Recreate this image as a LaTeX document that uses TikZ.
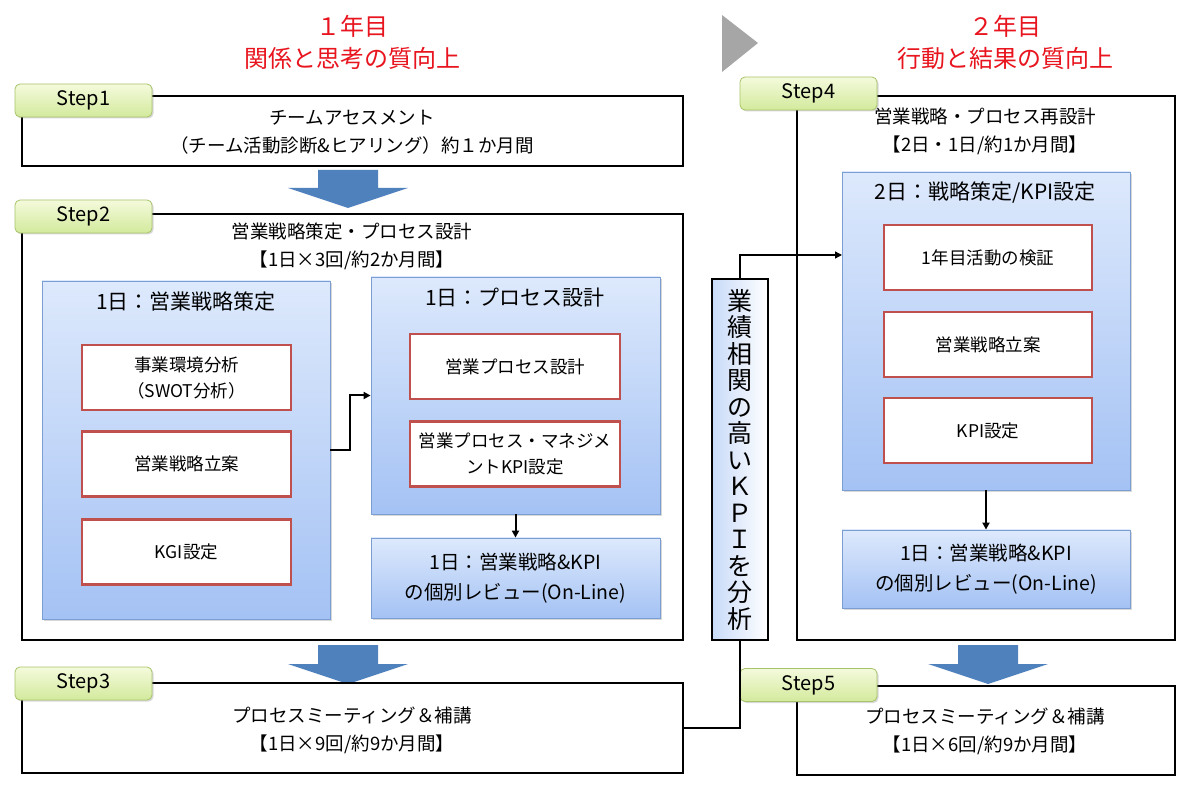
\documentclass[tikz,border=0pt]{standalone}
\usepackage{fontspec}
\setmainfont{Noto Sans CJK JP}
\usetikzlibrary{arrows.meta,shadows,calc}
\definecolor{titlered}{HTML}{E8141E}
\definecolor{bigarrow}{HTML}{4F81BD}
\definecolor{redbox}{HTML}{C0504D}
\definecolor{bluetop}{HTML}{DDE9FC}
\definecolor{bluebot}{HTML}{A4C2F4}
\definecolor{blueline}{HTML}{7A9ED2}
\definecolor{tagtop}{HTML}{F4FADC}
\definecolor{tagbot}{HTML}{D3EA9C}
\definecolor{tagline}{HTML}{A8C46A}
\tikzset{
  stepbox/.style={draw=black,line width=2.6pt,fill=white,minimum width=#1,inner sep=0pt},
  tagbox/.style={draw=tagline,line width=0.8pt,rounded corners=5pt,top color=tagtop,bottom color=tagbot,
     minimum width=137pt,minimum height=33pt,font=\fontsize{20}{22}\selectfont,
     drop shadow={opacity=0.3,shadow xshift=1.5pt,shadow yshift=-1.5pt}},
  bluebox/.style={draw=blueline,line width=0.8pt,top color=bluetop,bottom color=bluebot,
     drop shadow={opacity=0.3,shadow xshift=2pt,shadow yshift=-2pt},inner sep=0pt},
  redbx/.style={draw=redbox,line width=2.2pt,fill=white,align=center,
     font=\fontsize{17.5}{26}\selectfont,inner sep=0pt},
  maintext/.style={align=center,font=\fontsize{18.5}{28}\selectfont},
  bluetitle/.style={align=center,font=\fontsize{21}{28}\selectfont},
  reviewtext/.style={align=center,font=\fontsize{19.5}{30}\selectfont},
  titletext/.style={align=center,text=titlered,font=\fontsize{24}{32}\selectfont},
  conn/.style={draw=black,line width=2pt,-{Triangle[length=7pt,width=7pt]}},
  thinconn/.style={draw=black,line width=1.3pt},
  bigarr/.style={fill=bigarrow,draw=none}
}
\begin{document}
\begin{tikzpicture}[x=1pt,y=-1pt]
\useasboundingbox (0,0) rectangle (1195,791);
\fill[white] (0,0) rectangle (1195,791);

% titles
\node[titletext] (t1) at (352,42) {１年目\\関係と思考の質向上};
\node[titletext] (t2) at (1005,42) {２年目\\行動と結果の質向上};
\fill[gray!70] (722,15) -- (758,43) -- (722,72) -- cycle;

% big arrows
\fill[bigarr] (318,170) -- (378,170) -- (378,188) -- (408,188) -- (348,208) -- (288,188) -- (318,188) -- cycle;
\fill[bigarr] (318,645) -- (378,645) -- (378,664) -- (408,664) -- (348,684) -- (288,664) -- (318,664) -- cycle;
\fill[bigarr] (958,645) -- (1018,645) -- (1018,664) -- (1048,664) -- (988,684) -- (928,664) -- (958,664) -- cycle;

% step boxes
\node[stepbox=661pt,minimum height=70pt] (B1) at (352.5,131) {};
\node[stepbox=661pt,minimum height=426pt] (B2) at (352.5,427) {};
\node[stepbox=661pt,minimum height=90pt] (B3) at (352.5,728) {};
\node[stepbox=378pt,minimum height=544pt] (B4) at (986,368) {};
\node[stepbox=378pt,minimum height=89pt] (B5) at (986,730.5) {};

\node[maintext] (B1t) at (352,132) {チームアセスメント\\（チーム活動診断\&ヒアリング）約１か月間};
\node[maintext] (B2t) at (352,246) {営業戦略策定・プロセス設計\\【1日×3回/約2か月間】};
\node[maintext] (B3t) at (352,730) {プロセスミーティング＆補講\\【1日×9回/約9か月間】};
\node[maintext] (B4t) at (985,131) {営業戦略・プロセス再設計\\【2日・1日/約1か月間】};
\node[maintext] (B5t) at (985,731) {プロセスミーティング＆補講\\【1日×6回/約9か月間】};

% tags
\node[tagbox] (T1) at (83.5,100.5) {Step1};
\node[tagbox] (T2) at (83.5,216.5) {Step2};
\node[tagbox] (T3) at (83.5,683.5) {Step3};
\node[tagbox] (T4) at (808.5,93.5) {Step4};
\node[tagbox] (T5) at (808.5,685) {Step5};

% step2 inner
\node[bluebox,minimum width=288pt,minimum height=338pt] (L1) at (186,450) {};
\node[bluetitle] (L1t) at (186,302) {1日：営業戦略策定};
\node[redbx,minimum width=209pt,minimum height=65pt] (r1) at (186.5,377.5) {事業環境分析\\（SWOT分析）};
\node[redbx,minimum width=209pt,minimum height=65pt] (r2) at (186.5,464) {営業戦略立案};
\node[redbx,minimum width=209pt,minimum height=65pt] (r3) at (186.5,552) {KGI設定};

\node[bluebox,minimum width=289pt,minimum height=237pt] (R1) at (515.5,395.5) {};
\node[bluetitle] (R1t) at (515,298) {1日：プロセス設計};
\node[redbx,minimum width=210pt,minimum height=65pt] (r4) at (515,366.5) {営業プロセス設計};
\node[redbx,minimum width=210pt,minimum height=65pt] (r5) at (515,454) {営業プロセス・マネジメ\\ントKPI設定};

\node[bluebox,minimum width=289pt,minimum height=80pt,reviewtext] (RV1) at (515.5,578) {1日：営業戦略\&KPI\\の個別レビュー(On-Line)};

% step4 inner
\node[bluebox,minimum width=288pt,minimum height=318pt] (S4) at (986,331) {};
\node[bluetitle] (S4t) at (985,193) {2日：戦略策定/KPI設定};
\node[redbx,minimum width=208pt,minimum height=65pt] (r6) at (988,257.5) {1年目活動の検証};
\node[redbx,minimum width=208pt,minimum height=65pt] (r7) at (988,344.5) {営業戦略立案};
\node[redbx,minimum width=208pt,minimum height=65pt] (r8) at (988,430.5) {KPI設定};

\node[bluebox,minimum width=288pt,minimum height=78pt,reviewtext] (RV2) at (986,569) {1日：営業戦略\&KPI\\の個別レビュー(On-Line)};

% KPI vertical box
\node[draw=black,line width=2.6pt,left color=bluebot!60,right color=white,minimum width=56pt,minimum height=361pt,
  inner sep=0pt,align=center,font=\fontsize{25}{26.5}\selectfont] (KPI) at (740,459.5)
  {業\\績\\相\\関\\の\\高\\い\\Ｋ\\Ｐ\\Ｉ\\を\\分\\析};

% connectors
\draw[conn] (L1.east) -- ++(20,0) |- (R1.west);
\draw[conn] (R1.south) -- (RV1.north);
\draw[conn] (S4.south) -- (RV2.north);
\coordinate (S4in) at (842,255);
\draw[thinconn] (B3.east) -| (KPI.south);
\draw[thinconn,-{Triangle[length=7pt,width=7pt]}] (KPI.north) |- (S4in);
\end{tikzpicture}
\end{document}
